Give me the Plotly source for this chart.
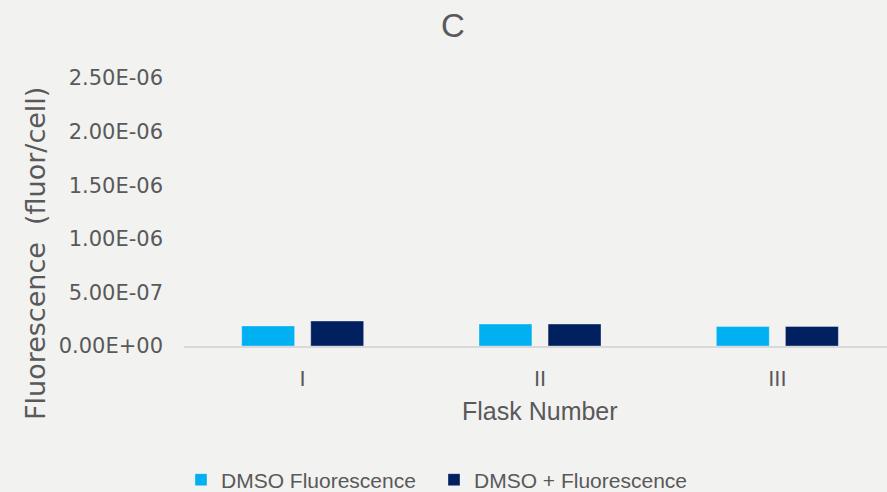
import plotly.graph_objects as go

# Flask categories and mean fluorescence per cell
flasks = ["I", "II", "III"]
dmso_fluor = [1.87e-7, 2.05e-7, 1.82e-7]
dmso_plus_fluor = [2.33e-7, 2.05e-7, 1.82e-7]

y_ticks = [0, 5e-7, 1e-6, 1.5e-6, 2e-6, 2.5e-6]
y_ticktext = [f"{v:.2E}" for v in y_ticks]

TEXT = "#595959"
BG = "#F2F2F1"
SANS = "Liberation Sans, Arial, sans-serif"
WIDE = "DejaVu Sans, sans-serif"

W, H = 887, 492
L, T, B = 184, 78, 146
PW, PH = W - L, H - T - B

fig = go.Figure()
fig.add_trace(go.Bar(
    x=flasks, y=dmso_fluor, name="DMSO Fluorescence",
    marker=dict(color="#00B0F0", line=dict(color="rgba(255,255,255,0.35)", width=1)),
    width=0.223, offset=-0.257,
))
fig.add_trace(go.Bar(
    x=flasks, y=dmso_plus_fluor, name="DMSO + Fluorescence",
    marker=dict(color="#002060", line=dict(color="rgba(255,255,255,0.35)", width=1)),
    width=0.223, offset=0.034,
))

fig.update_layout(
    width=W, height=H,
    paper_bgcolor=BG, plot_bgcolor=BG,
    margin=dict(l=L, r=0, t=T, b=B, autoexpand=False),
    font=dict(family=SANS, color=TEXT, size=18),
    barmode="overlay",
    title=dict(text="C", x=453 / W, xanchor="center", y=1 - 25 / H, yanchor="middle",
               font=dict(size=33, color=TEXT, family=SANS)),
    showlegend=True,
    legend=dict(orientation="h", xref="container", yref="container",
                x=181 / W, xanchor="left", y=12 / H, yanchor="middle",
                font=dict(size=21, color=TEXT, family=SANS), bgcolor="rgba(0,0,0,0)",
                itemwidth=30, entrywidth=208, entrywidthmode="pixels"),
    xaxis=dict(
        range=[-0.5, 2.462], showgrid=False, zeroline=False, automargin=False,
        showline=True, linecolor="#D9D9D9", linewidth=2,
        ticks="", tickfont=dict(size=22, color=TEXT, family=SANS), ticklabelstandoff=12,
    ),
    yaxis=dict(
        range=[0, 2.5e-6], tickvals=y_ticks, ticktext=y_ticktext, automargin=False,
        showgrid=False, zeroline=False, showline=False,
        ticks="", tickfont=dict(size=21, color=TEXT, family=WIDE), ticklabelstandoff=20,
    ),
    annotations=[
        dict(text="Fluorescence  (fluor/cell)", textangle=-90,
             xref="paper", yref="paper",
             x=(35 - L) / PW, y=(346 - 254) / PH,
             xanchor="center", yanchor="middle", showarrow=False,
             font=dict(size=27, color=TEXT, family=WIDE)),
        dict(text="Flask Number", xref="paper", yref="paper",
             x=(540 - L) / PW, y=(346 - 411) / PH,
             xanchor="center", yanchor="middle", showarrow=False,
             font=dict(size=25, color=TEXT, family=SANS)),
    ],
)

fig.write_html("out.html")
